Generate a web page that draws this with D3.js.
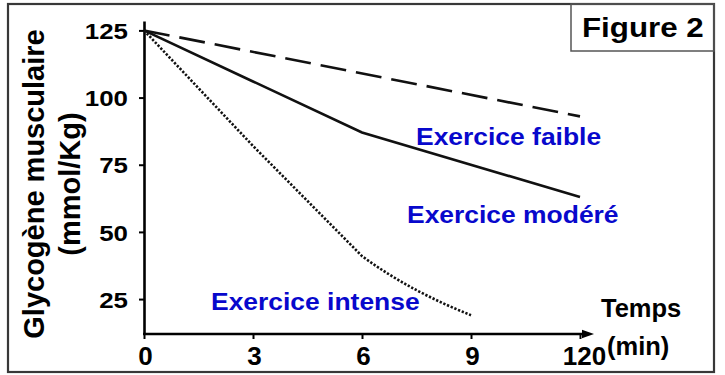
<!DOCTYPE html>
<html><head><meta charset="utf-8">
<script src="https://cdn.jsdelivr.net/npm/d3@7"></script>
<style>
html,body{margin:0;padding:0;background:#fff;}
svg{display:block;font-family:"Liberation Sans",Arial,Helvetica,sans-serif;font-weight:bold;}
</style>
</head><body>
<svg id="chart" width="725" height="375"></svg>
<script>
// ---- data ----
const categories = ["0", "3", "6", "9", "120"];
const yTickValues = [25, 50, 75, 100, 125];
const faibleTimes = ["0", "120"];
const faibleValues = [125, 93];
const modereTimes = ["0", "3", "6", "120"];
const modereValues = [125, 106, 87, 63];
const intenseTimes = ["0", "3", "6", "9"];
const intenseValues = [125, 82, 41, 19];
const seriesLabels = ["Exercice faible", "Exercice modéré", "Exercice intense"];
const yTitle = ["Glycogène musculaire", "(mmol/Kg)"];
const xTitle = ["Temps", "(min)"];
const figTitle = "Figure 2";

const svg = d3.select("#chart");

// outer frame
svg.append("rect").attr("x", 8).attr("y", 4).attr("width", 706).attr("height", 368)
  .attr("fill", "#fff").attr("stroke", "#383838").attr("stroke-width", 2.2);
// figure label box
svg.append("rect").attr("x", 571).attr("y", 4).attr("width", 143).attr("height", 47)
  .attr("fill", "none").attr("stroke", "#555").attr("stroke-width", 1.5);

function stretchedText(x, y, str, size, sx, anchor, color) {
  const g = svg.append("g").attr("transform", `translate(${x},${y}) scale(${sx},1)`);
  g.append("text").attr("x", 0).attr("y", 0).attr("font-size", size)
    .attr("text-anchor", anchor).attr("fill", color).text(str);
  return g;
}

stretchedText(582, 37, figTitle, 27, 1.16, "start", "#000");

// scales
const x = d3.scalePoint().domain(categories).range([144, 580]);
const y = d3.scaleLinear().domain([12, 128.5]).range([334, 21]);

// y axis
const yAxisG = svg.append("g").attr("transform", "translate(144,0)")
  .call(d3.axisLeft(y).tickValues(yTickValues).tickSize(5).tickSizeOuter(0).tickPadding(11));
yAxisG.select(".domain").attr("stroke", "#000").attr("stroke-width", 2.6);
yAxisG.selectAll(".tick line").attr("stroke", "#000").attr("stroke-width", 2);
yAxisG.selectAll(".tick text")
  .attr("font-size", 22.5).attr("fill", "#000")
  .attr("font-family", '"Liberation Sans",Arial,sans-serif').attr("font-weight", "bold")
  .attr("x", -16 / 1.15).attr("transform", "scale(1.15,1)").attr("dy", "0.36em");

// x axis
const xAxisG = svg.append("g").attr("transform", "translate(0,334)")
  .call(d3.axisBottom(x).tickSize(5).tickSizeOuter(0).tickPadding(7.5));
xAxisG.select(".domain").remove();
xAxisG.selectAll(".tick line").attr("stroke", "#000").attr("stroke-width", 2);
xAxisG.selectAll(".tick text")
  .attr("font-size", 26).attr("fill", "#000")
  .attr("font-family", '"Liberation Sans",Arial,sans-serif').attr("font-weight", "bold")
  .attr("dx", (d, i) => (i === categories.length - 1 ? 4 : 1));
svg.append("line").attr("x1", 143).attr("x2", 586).attr("y1", 334).attr("y2", 334)
  .attr("stroke", "#000").attr("stroke-width", 2.6);
svg.append("path").attr("d", "M582,329.8 L594,334 L582,338.2 Z").attr("fill", "#000");

// lines
const line = d3.line().x(d => x(d[0])).y(d => y(d[1]));

svg.append("path").datum(d3.zip(faibleTimes, faibleValues)).attr("d", line)
  .attr("fill", "none").attr("stroke", "#111").attr("stroke-width", 2.6)
  .attr("stroke-dasharray", "26,10");
svg.append("path").datum(d3.zip(modereTimes, modereValues)).attr("d", line)
  .attr("fill", "none").attr("stroke", "#111").attr("stroke-width", 2.6);

// intense: straight to 6 min, then a flattening curve to 9 min
const ip = d3.zip(intenseTimes, intenseValues).map(d => [x(d[0]), y(d[1])]);
const n = ip.length;
const p0 = ip[n - 2], p1 = ip[n - 1];
const h = p1[0] - p0[0];
const startSlope = 0.73, endSlope = 0.4; // px per px (visual tangents)
const path = d3.path();
path.moveTo(ip[0][0], ip[0][1]);
for (let i = 1; i < n - 1; i++) path.lineTo(ip[i][0], ip[i][1]);
path.bezierCurveTo(p0[0] + h / 3, p0[1] + startSlope * h / 3,
                   p1[0] - h / 3, p1[1] - endSlope * h / 3,
                   p1[0], p1[1]);
svg.append("path").attr("d", path.toString())
  .attr("fill", "none").attr("stroke", "#111").attr("stroke-width", 2.6)
  .attr("stroke-dasharray", "2.3,1.7");

// series labels
const blue = "#0808cc";
stretchedText(416, 145, seriesLabels[0], 23, 1.15, "start", blue);
stretchedText(407, 223, seriesLabels[1], 23, 1.15, "start", blue);
stretchedText(211, 310, seriesLabels[2], 23, 1.15, "start", blue);

// y title
const yt = svg.append("text").attr("transform", "translate(44,184) rotate(-90)")
  .attr("font-size", 29).attr("text-anchor", "middle").attr("fill", "#000");
yt.append("tspan").attr("x", 0).attr("y", 0).text(yTitle[0]);
yt.append("tspan").attr("x", 0).attr("y", 36).text(yTitle[1]);

// x title
svg.append("text").attr("x", 601).attr("y", 316.5).attr("font-size", 25.5).attr("fill", "#000").text(xTitle[0]);
svg.append("text").attr("x", 607).attr("y", 355).attr("font-size", 25.5).attr("fill", "#000").text(xTitle[1]);
</script>
</body></html>
